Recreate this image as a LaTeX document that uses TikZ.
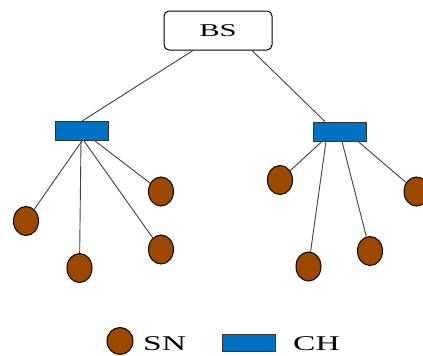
\documentclass[tikz,border=0pt]{standalone}
\usepackage{fontspec}
\setmainfont{Liberation Serif}
\usetikzlibrary{shapes.geometric}
\definecolor{snbrown}{RGB}{156,72,0}
\definecolor{chblue}{RGB}{0,112,192}
\tikzset{
  sn/.style={ellipse,draw=black,line width=1pt,fill=snbrown,minimum width=25pt,minimum height=29pt,inner sep=0pt},
  ch/.style={rectangle,draw=black!80,line width=0.8pt,fill=chblue,minimum width=53pt,minimum height=19pt,inner sep=0pt},
  bs/.style={rectangle,rounded corners=5pt,draw=black,line width=1pt,fill=white,minimum width=108pt,minimum height=39pt,inner sep=0pt},
  link/.style={draw=black!75,line width=0.9pt},
  lbl/.style={inner sep=0pt,anchor=west}
}
\begin{document}
\begin{tikzpicture}[x=1pt,y=-1pt]
\useasboundingbox (0,0) rectangle (423,356);
\clip (0,0) rectangle (423,356);
\node[bs] (bs) at (218,30.5) {\fontsize{18}{18}\selectfont\scalebox{1.7}[1]{BS}};
\node[ch] (chL) at (82,131) {};
\node[ch] (chR) at (340,131.5) {};
\node[sn] (s1) at (26,221) {};
\node[sn] (s2) at (79.5,268) {};
\node[sn] (s3) at (161,191.5) {};
\node[sn] (s4) at (161,249.5) {};
\node[sn] (s5) at (280,180) {};
\node[sn] (s6) at (308.5,266.5) {};
\node[sn] (s7) at (370,251) {};
\node[sn] (s8) at (416.5,191.5) {};
\draw[link] ([xshift=-25pt]bs.south) -- (chL.north);
\draw[link] ([xshift=34pt]bs.south) -- ([xshift=-15pt]chR.north);
\draw[link] (chL.south) -- (s1);
\draw[link] ([xshift=-1pt]chL.south) -- (s2);
\draw[link] ([xshift=13pt]chL.south) -- (s3);
\draw[link] ([xshift=2pt]chL.south) -- (s4);
\draw[link] ([xshift=-18pt]chR.south) -- (s5);
\draw[link] ([xshift=-14pt]chR.south) -- (s6);
\draw[link] ([xshift=2pt]chR.south) -- (s7);
\draw[link] ([xshift=18pt]chR.south) -- (s8);
% legend
\node[sn,minimum width=26pt,minimum height=27pt] (lsn) at (120,341) {};
\node[lbl] (tsn) at (143,344) {\fontsize{21}{21}\selectfont\scalebox{1.6}[1]{SN}};
\node[ch,minimum height=17pt] (lch) at (248.5,342.5) {};
\node[lbl] (tch) at (293,344) {\fontsize{21}{21}\selectfont\scalebox{1.6}[1]{CH}};
\end{tikzpicture}
\end{document}
